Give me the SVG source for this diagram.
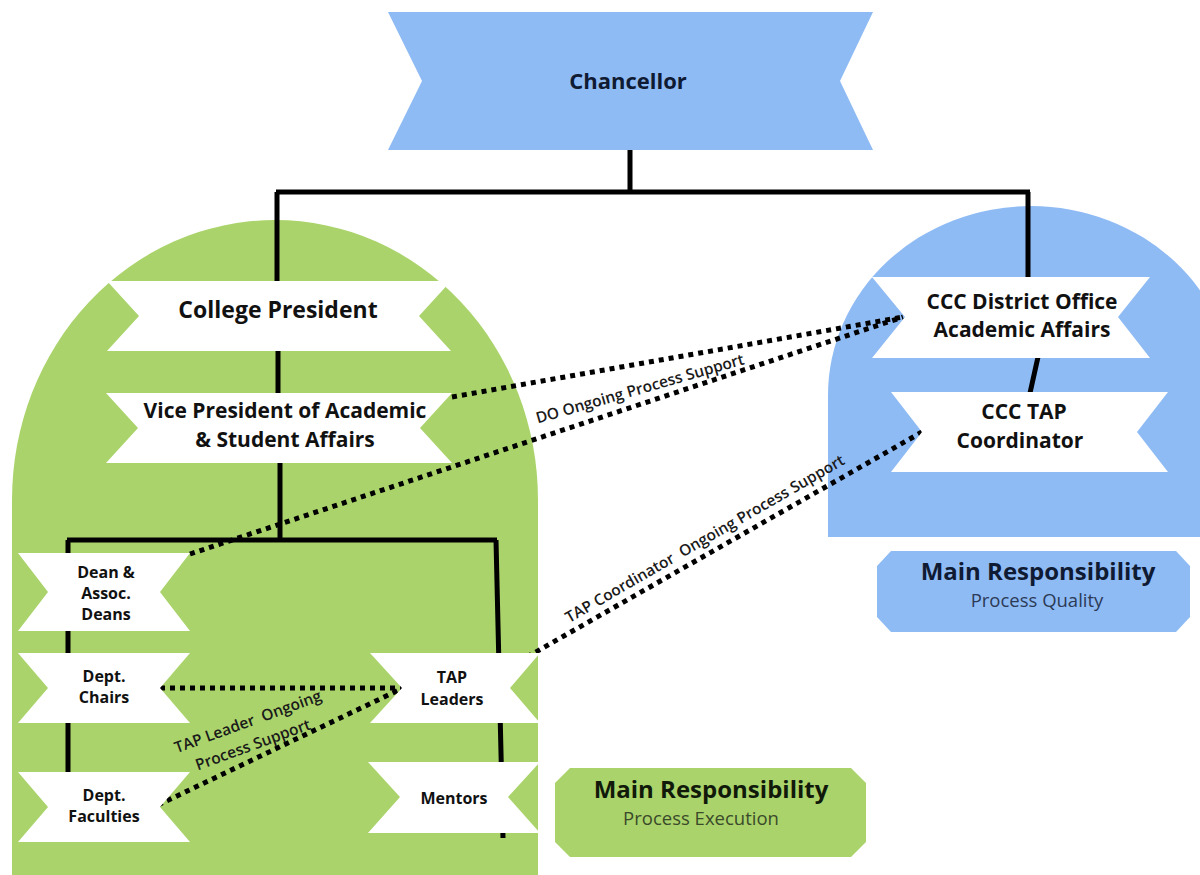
<svg xmlns="http://www.w3.org/2000/svg" width="1200" height="875" viewBox="0 0 1200 875">
<style>
.rib{fill:#ffffff}
.t{font-family:"Open Sans","Liberation Sans",sans-serif;font-weight:700;fill:#111111;text-anchor:middle}
.big{font-size:21px}
.sm{font-size:16px}
.org{stroke:#000;stroke-width:5;fill:none;stroke-linecap:butt}
.dot{stroke:#000;stroke-width:5;fill:none;stroke-dasharray:5 5}
.lbl{font-family:"Open Sans","Liberation Sans",sans-serif;font-weight:600;font-size:15.5px;fill:#1a1a1a;text-anchor:middle}
.mr{font-size:24px}
.sub{font-size:18.5px;font-weight:400}
</style>
<rect width="1200" height="875" fill="#ffffff"/>
<g id="bg">
<path d="M12,875 L12,500 A263,280 0 0 1 538,500 L538,875 Z" fill="#aad46b"/>
<path d="M828,537 L828,395 A203,189 0 0 1 1234,395 L1234,537 Z" fill="#8fbbf5"/>
</g>
<g id="connectors">
<path class="org" d="M630,150 V192 M276,192 H1030 M277,192 V282 M1028,192 V278 M278,350 V394 M280,462 V540 M67,540 H497 M68,540 V772 M496,540 L503,838 M1038,357 L1030,393"/>
<path class="dot" d="M452,397 L903,317"/>
<path class="dot" d="M190,554 L903,317"/>
<path class="dot" d="M527,657 L922,432"/>
<path class="dot" d="M160,688 H403"/>
<path class="dot" d="M158,805 L403,688"/>
<text class="lbl" transform="translate(640,389) rotate(-16)" y="5">DO Ongoing Process Support</text>
<text class="lbl" transform="translate(705,539) rotate(-30)" y="5" xml:space="preserve">TAP Coordinator  Ongoing Process Support</text>
<text class="lbl" transform="translate(248,722) rotate(-20)" y="5" xml:space="preserve">TAP Leader  Ongoing</text>
<text class="lbl" transform="translate(253,745) rotate(-20)" y="5">Process Support</text>
</g>
<g id="chancellor">
<polygon points="388,12 873,12 840,81 873,150 388,150 422,81" fill="#8fbbf5"/>
<text class="t" x="628" y="89" style="font-size:22px;fill:#0f1a33">Chancellor</text>
</g>
<g id="college-president">
<polygon class="rib" points="107,281 451,281 419,316 451,351 107,351 139,316"/>
<text class="t" x="278" y="318" style="font-size:23px">College President</text>
</g>
<g id="vice-president">
<polygon class="rib" points="106,393 452,393 420,428 452,463 106,463 138,428"/>
<text class="t big" x="285" y="418">Vice President of Academic</text>
<text class="t big" x="285" y="447">&amp; Student Affairs</text>
</g>
<g id="district-office">
<polygon class="rib" points="872,277 1150,277 1118,317 1150,358 872,358 905,317"/>
<text class="t big" x="1022" y="309">CCC District Office</text>
<text class="t big" x="1022" y="337">Academic Affairs</text>
</g>
<g id="tap-coordinator">
<polygon class="rib" points="891,392 1168,392 1137,432 1168,472 891,472 922,432"/>
<text class="t big" x="1024" y="419">CCC TAP</text>
<text class="t big" x="1020" y="448">Coordinator</text>
</g>
<g id="deans">
<polygon class="rib" points="18,553 190,553 160,592 190,631 18,631 48,592"/>
<text class="t sm" x="106" y="578">Dean &amp;</text>
<text class="t sm" x="106" y="599">Assoc.</text>
<text class="t sm" x="106" y="620">Deans</text>
</g>
<g id="dept-chairs">
<polygon class="rib" points="18,653 190,653 160,688 190,723 18,723 48,688"/>
<text class="t sm" x="104" y="682">Dept.</text>
<text class="t sm" x="104" y="703">Chairs</text>
</g>
<g id="dept-faculties">
<polygon class="rib" points="18,772 190,772 160,807 190,842 18,842 48,807"/>
<text class="t sm" x="104" y="801">Dept.</text>
<text class="t sm" x="104" y="822">Faculties</text>
</g>
<g id="tap-leaders">
<polygon class="rib" points="370,653 540,653 510,688 540,723 370,723 402,688"/>
<text class="t sm" x="452" y="683">TAP</text>
<text class="t sm" x="452" y="705">Leaders</text>
</g>
<g id="mentors">
<polygon class="rib" points="368,762 540,762 508,797 540,833 368,833 400,797"/>
<text class="t sm" x="454" y="804">Mentors</text>
</g>
<g id="resp-quality">
<polygon points="891,551 1176,551 1190,566 1190,617 1176,632 891,632 877,617 877,566" fill="#8fbbf5"/>
<text class="t mr" x="1038" y="580" style="fill:#0f1a33">Main Responsibility</text>
<text class="t sub" x="1037" y="607" style="fill:#2b3a55">Process Quality</text>
</g>
<g id="resp-execution">
<polygon points="570,768 851,768 866,783 866,842 851,857 570,857 555,842 555,783" fill="#aad46b"/>
<text class="t mr" x="711" y="798" style="fill:#111a0a">Main Responsibility</text>
<text class="t sub" x="701" y="825" style="fill:#3a4a2a">Process Execution</text>
</g>
</svg>
